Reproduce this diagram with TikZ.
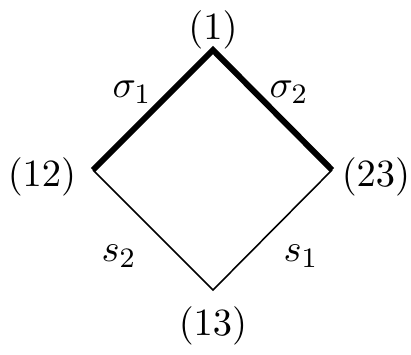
\documentclass[tikz,border=0pt]{standalone}
\usetikzlibrary{positioning}
\tikzset{
  every picture/.style={line join=miter},
  vert/.style={inner sep=0pt, minimum size=0pt},
  vlabel/.style={inner sep=1pt, font=\fontsize{10.8}{13}\selectfont},
  elabel/.style={inner sep=1pt, font=\fontsize{10.8}{13}\selectfont},
  heavy/.style={line width=1.7pt},
  light/.style={line width=0.45pt},
}
\begin{document}
\begin{tikzpicture}
  \useasboundingbox (0,0) rectangle (4.11,3.54);
  % the four corners
  \node[vert] (v1) at (2.13,3.04) {};
  \node[vert] (v12) at (0.93,1.84) {};
  \node[vert] (v23) at (3.32,1.84) {};
  \node[vert] (v13) at (2.13,0.64) {};
  % their names
  \node[vlabel] (t1) at (2.13,3.24) {$(1)$};
  \node[vlabel] (t12) at (0.42,1.77) {$(12)$};
  \node[vlabel] (t23) at (3.76,1.77) {$(23)$};
  \node[vlabel] (t13) at (2.13,0.28) {$(13)$};
  % edges
  \draw[heavy] (v12.center) -- (v1.center) -- (v23.center);
  \draw[light] (v12.center) -- (v13.center) -- (v23.center);
  \node[elabel] (e1) at (1.32,2.62) {$\sigma_1$};
  \node[elabel] (e2) at (2.89,2.62) {$\sigma_2$};
  \node[elabel] (e3) at (1.19,0.98) {$s_2$};
  \node[elabel] (e4) at (3.01,0.98) {$s_1$};
\end{tikzpicture}
\end{document}
